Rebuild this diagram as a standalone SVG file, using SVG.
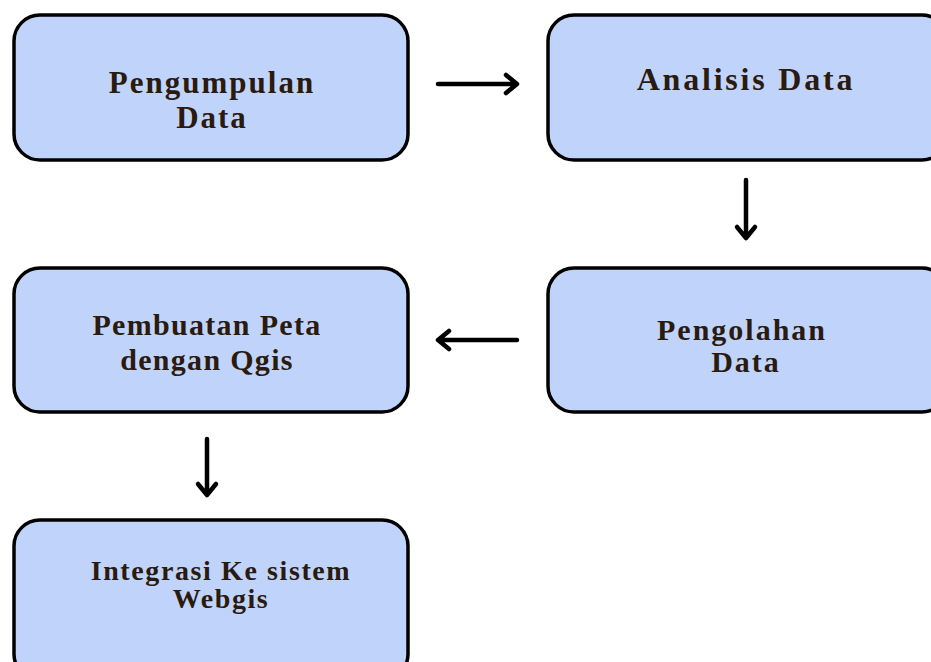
<svg xmlns="http://www.w3.org/2000/svg" width="931" height="662" viewBox="0 0 931 662">
<defs>
<style>
.box{fill:#c0d4fb;stroke:#000;stroke-width:3.5}
.t{font-family:"Liberation Serif","Times New Roman",serif;font-weight:bold;fill:#2b1a0e;text-anchor:middle}
.c{stroke:#000;stroke-width:4.5;fill:none;stroke-linecap:round;stroke-linejoin:round}
</style>
</defs>
<rect width="931" height="662" fill="#fff"/>
<g id="n1"><rect class="box" x="14" y="15" width="394" height="145" rx="26"/>
<text class="t" x="212" y="93" font-size="31" letter-spacing="2">Pengumpulan</text>
<text class="t" x="212" y="128" font-size="31" letter-spacing="2">Data</text></g>
<g id="n2"><rect class="box" x="548" y="15" width="400" height="145" rx="26"/>
<text class="t" x="746" y="90" font-size="32" letter-spacing="2.8">Analisis Data</text></g>
<g id="n3"><rect class="box" x="14" y="268" width="394" height="144" rx="26"/>
<text class="t" x="207" y="335" font-size="30" letter-spacing="1.3">Pembuatan Peta</text>
<text class="t" x="207" y="370" font-size="30" letter-spacing="1.3">dengan Qgis</text></g>
<g id="n4"><rect class="box" x="548" y="268" width="400" height="144" rx="26"/>
<text class="t" x="742" y="340" font-size="30" letter-spacing="2">Pengolahan</text>
<text class="t" x="746" y="372" font-size="30" letter-spacing="2">Data</text></g>
<g id="n5"><rect class="box" x="14" y="520" width="394" height="160" rx="26"/>
<text class="t" x="221" y="580" font-size="28" letter-spacing="1.6">Integrasi Ke sistem</text>
<text class="t" x="221" y="608" font-size="28" letter-spacing="1.6">Webgis</text></g>
<g id="connectors">
<path class="c" d="M438 84H516M506 75L517 84L506 93"/>
<path class="c" d="M746 180V237M737 227L746 238L755 227"/>
<path class="c" d="M517 340H439M449 331L438 340L449 349"/>
<path class="c" d="M207 439V494M198 484L207 495L216 484"/>
</g>
</svg>
